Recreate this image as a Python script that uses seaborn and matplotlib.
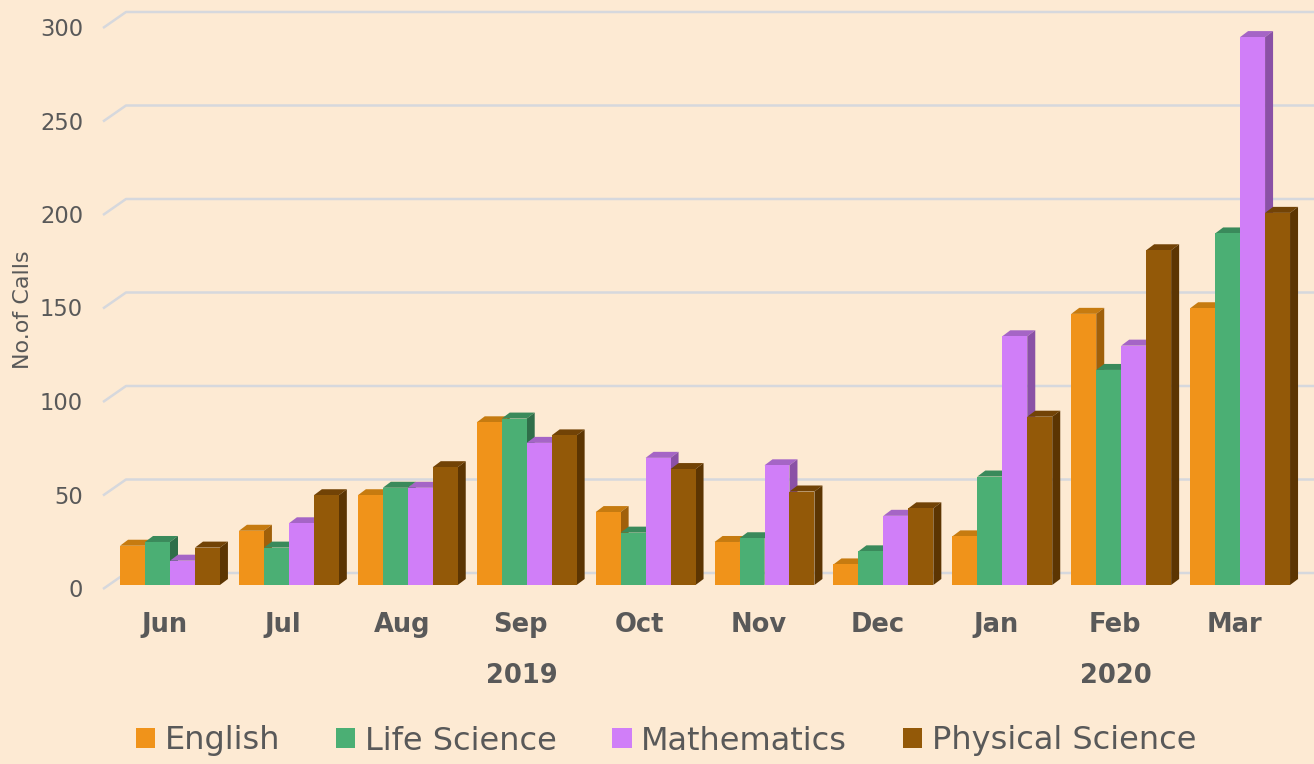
import numpy as np
import pandas as pd
import matplotlib
matplotlib.use("Agg")
import matplotlib.pyplot as plt
import matplotlib.transforms as mtransforms
from matplotlib.patches import Polygon, Patch
import seaborn as sns

months = ["Jun", "Jul", "Aug", "Sep", "Oct", "Nov", "Dec", "Jan", "Feb", "Mar"]
years = ["2019", "2020"]
year_spans = [(0, 6), (7, 9)]
subjects = ["English", "Life Science", "Mathematics", "Physical Science"]
english = [21, 29, 48, 87, 39, 23, 11, 26, 145, 148]
life_science = [23, 20, 52, 89, 28, 25, 18, 58, 115, 188]
mathematics = [13, 33, 52, 76, 68, 64, 37, 133, 128, 293]
physical_science = [20, 48, 63, 80, 62, 50, 41, 90, 179, 199]
yticks = [0, 50, 100, 150, 200, 250, 300]

front_colors = ["#F0931A", "#4BAF74", "#D07EF8", "#935908"]
top_colors = ["#C67B10", "#3A8A5B", "#A565C6", "#724306"]
side_colors = ["#A0600A", "#2F6E49", "#8A51A6", "#5C3502"]
BG = "#FDEAD3"
TXT = "#595959"
GRID = "#D6D8DD"

df = pd.DataFrame({
    "Month": months * 4,
    "Subject": np.repeat(subjects, len(months)),
    "Calls": english + life_science + mathematics + physical_science,
})

sns.set_theme(style="white")
plt.rcParams["font.family"] = ["DejaVu Sans"]

W, H = 1314, 764
fig = plt.figure(figsize=(W / 100, H / 100), dpi=100, facecolor=BG)
ax_left, ax_right, ax_base, ax_top = 103, 1314, 585, 5
ax = fig.add_axes([ax_left / W, (H - ax_base) / H, (ax_right - ax_left) / W, (ax_base - ax_top) / H])
ax.set_facecolor(BG)

sns.barplot(data=df, x="Month", y="Calls", hue="Subject", order=months,
            hue_order=subjects, palette=front_colors, width=0.84,
            linewidth=0, saturation=1, legend=False, ax=ax, zorder=3)

px_per_x = 118.9
px_per_y = 1.87
x0c = 170
ax.set_xlim((ax_left - x0c) / px_per_x, (ax_right - x0c) / px_per_x)
ax.set_ylim(0, (ax_base - ax_top) / px_per_y)
xl, xr = ax.get_xlim()

# 3D faces
dxd = 8 / px_per_x
dyd = 6 / px_per_y
for i, cont in enumerate(ax.containers):
    for p in cont.patches:
        p.set_zorder(5 + 2 * i)
        x0 = p.get_x()
        x1 = x0 + p.get_width()
        h = p.get_height()
        top = Polygon([(x0, h), (x1, h), (x1 + dxd, h + dyd), (x0 + dxd, h + dyd)],
                      closed=True, facecolor=top_colors[i], edgecolor="none", zorder=4 + 2 * i)
        side = Polygon([(x1, 0), (x1 + dxd, dyd), (x1 + dxd, h + dyd), (x1, h)],
                       closed=True, facecolor=side_colors[i], edgecolor="none", zorder=4 + 2 * i)
        ax.add_patch(top)
        ax.add_patch(side)

# gridlines with slanted front segment
g_front = -4 / px_per_y
g_back = 12 / px_per_y
g_dx = 23 / px_per_x
for v in yticks:
    ax.plot([xl, xl + g_dx, xr], [v + g_front, v + g_back, v + g_back],
            color=GRID, lw=1.8, zorder=1, clip_on=False, solid_capstyle="butt")

for s in ax.spines.values():
    s.set_visible(False)

ax.set_yticks(yticks)
ax.set_yticklabels([str(v) for v in yticks])
ax.tick_params(axis="y", length=0, pad=14.4, labelsize=16.3, labelcolor=TXT)
ax.tick_params(axis="x", length=0, pad=19.2, labelsize=18.5, labelcolor=TXT)
for lab in ax.get_xticklabels():
    lab.set_fontweight("bold")
    lab.set_transform(lab.get_transform() + mtransforms.ScaledTranslation(-6 / 100, 0, fig.dpi_scale_trans))
for lab in ax.get_yticklabels():
    lab.set_transform(lab.get_transform() + mtransforms.ScaledTranslation(0, -3 / 100, fig.dpi_scale_trans))
ax.set_xlabel("")
ax.set_ylabel("")

# year labels
trans_year = mtransforms.blended_transform_factory(ax.transData, fig.transFigure)
for yr, (a, b) in zip(years, year_spans):
    t = ax.text((a + b) / 2, (H - 676) / H, yr, transform=trans_year, ha="center", va="center",
                fontsize=18.5, fontweight="bold", color=TXT)
    t.set_transform(trans_year + mtransforms.ScaledTranslation(-5 / 100, 0, fig.dpi_scale_trans))

fig.text(23 / W, 1 - 310 / H, "No.of Calls", rotation=90, ha="center", va="center",
         fontsize=16, color=TXT)

handles = [Patch(facecolor=c, edgecolor="none") for c in front_colors]
fig.legend(handles, subjects, loc="center", bbox_to_anchor=(666 / W, (H - 741) / H),
           ncol=4, frameon=False, fontsize=23, labelcolor=TXT,
           handlelength=0.6, handleheight=0.6, handletextpad=0.3, columnspacing=1.75)

fig.savefig("out.png", dpi=100, facecolor=BG)
